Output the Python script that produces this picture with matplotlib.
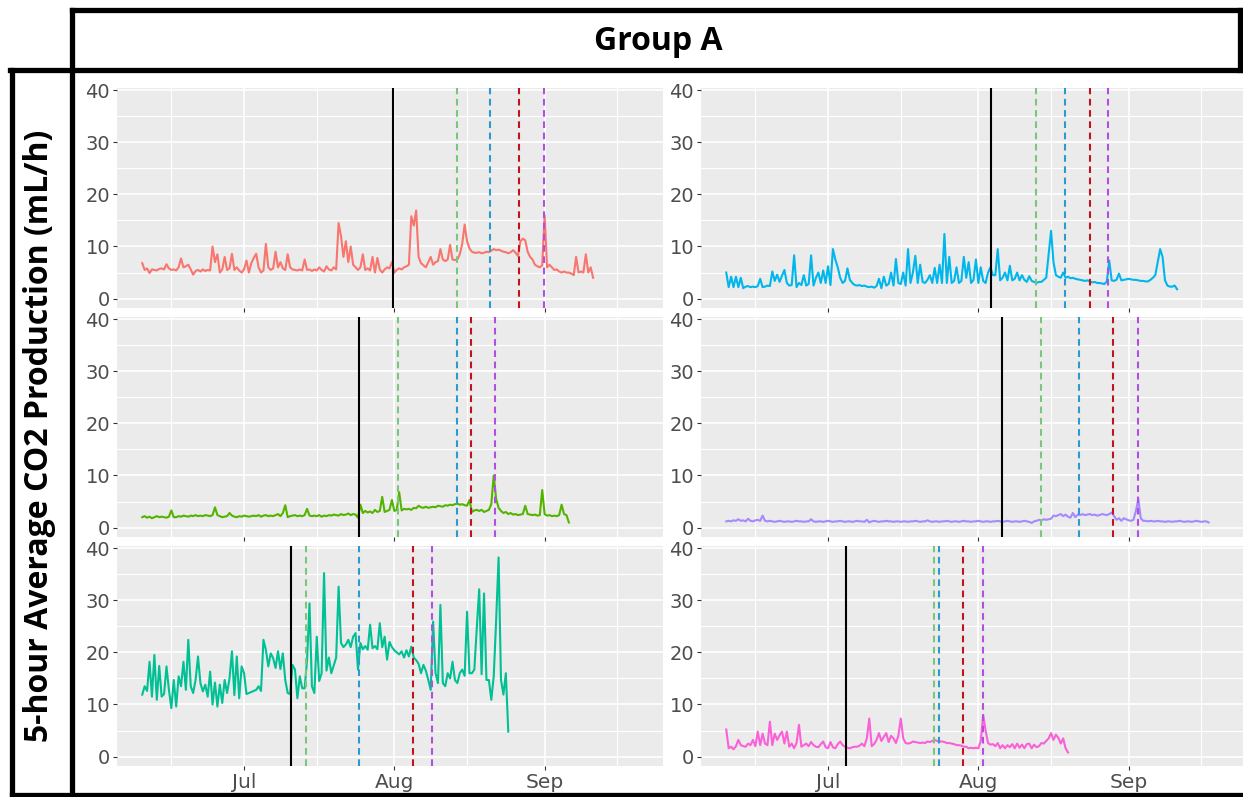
import matplotlib
matplotlib.use("Agg")
import matplotlib.pyplot as plt
import matplotlib.dates as mdates
from matplotlib.lines import Line2D
import pandas as pd

W, H = 1243, 797

# 5-hour average CO2 production (mL/h), one value every 12 h from 10 June
start = "2020-06-10"
step = "12h"

co2_tl = [6.8, 5.5, 5.8, 4.9, 5.6, 5.5, 5.4, 5.7, 5.8, 5.6,
          6.6, 5.8, 5.5, 5.6, 5.4, 6.0, 7.7, 6.0, 6.2, 6.5,
          5.6, 4.6, 5.3, 5.5, 5.2, 5.6, 5.3, 5.5, 5.4, 10.0,
          7.0, 8.5, 5.0, 5.6, 8.0, 5.5, 5.8, 8.6, 5.5, 6.0,
          5.4, 5.0, 5.6, 7.3, 5.0, 6.8, 7.8, 8.6, 6.0, 5.0,
          5.4, 10.5, 6.0, 5.5, 5.8, 9.0, 6.0, 7.0, 5.8, 5.5,
          8.5, 6.0, 5.6, 5.5, 5.4, 5.6, 5.4, 7.5, 5.5, 5.6,
          5.3, 5.6, 5.4, 6.0, 5.5, 5.2, 6.2, 5.6, 5.4, 6.0,
          5.6, 14.5, 12.0, 8.0, 11.0, 7.0, 10.0, 6.5, 6.0, 5.5,
          6.0, 8.5, 5.5, 5.8, 5.4, 8.0, 5.0, 7.8, 5.6, 5.0,
          5.6, 6.0, 5.8, 7.0, 5.0, 5.5, 5.8, 5.6, 6.0, 6.2,
          6.5, 15.8, 14.0, 16.9, 8.0, 6.8, 6.4, 6.0, 7.0, 8.0,
          6.5, 7.0, 7.2, 9.5, 7.5, 7.2, 7.5, 10.3, 7.5, 7.4,
          7.5, 8.5, 10.5, 14.2, 11.0, 9.6, 9.0, 8.8, 8.8, 8.9,
          8.7, 8.8, 9.0, 8.9, 9.2, 9.5, 9.3, 9.4, 9.2, 9.0,
          8.9, 8.7, 8.9, 9.3, 8.8, 8.2, 11.0, 11.5, 11.2, 9.0,
          8.0, 7.5, 6.5, 6.2, 6.0, 6.4, 16.0, 6.0, 6.5, 6.0,
          5.5, 5.6, 5.2, 5.0, 5.2, 5.0, 5.0, 4.8, 4.5, 8.0,
          5.0, 5.2, 5.0, 8.5, 5.0, 6.0, 4.0]

co2_tr = [5.0, 2.2, 4.2, 2.2, 4.2, 2.2, 4.0, 2.0, 2.3, 2.4,
          2.2, 2.3, 2.2, 2.4, 3.8, 2.2, 2.3, 2.5, 2.4, 5.2,
          3.4, 4.6, 3.2, 4.4, 5.5, 3.0, 2.5, 2.6, 8.3, 2.2,
          3.0, 2.6, 4.5, 2.5, 2.8, 8.3, 2.5, 4.0, 5.0, 3.0,
          5.4, 3.0, 6.2, 2.6, 9.5, 7.5, 6.0, 4.0, 3.0, 3.4,
          5.8, 3.6, 3.0, 2.6, 2.5, 2.6, 2.4, 2.5, 2.3, 2.2,
          2.3, 2.1, 2.4, 3.8, 2.0, 4.2, 2.5, 2.8, 5.0, 2.5,
          7.6, 3.0, 2.8, 5.0, 2.5, 9.5, 3.0, 5.0, 8.2, 3.0,
          6.5, 3.2, 3.0, 3.6, 4.5, 3.0, 5.9, 3.0, 6.5, 3.0,
          12.4, 3.0, 8.0, 3.0, 3.4, 6.0, 3.0, 3.4, 8.0, 4.0,
          7.0, 3.0, 3.6, 7.5, 3.0, 6.0, 3.4, 3.0, 5.0, 6.0,
          4.5, 4.5, 9.5, 3.5, 4.0, 5.0, 3.5, 6.3, 3.5, 3.8,
          5.0, 3.5, 4.5, 3.6, 3.2, 4.3, 3.4, 3.2, 3.0, 3.2,
          3.2, 3.6, 4.0, 8.5, 13.0, 7.0, 4.5, 4.2, 4.0, 5.0,
          4.0, 4.2, 3.9, 4.0, 3.8, 3.7, 3.6, 3.5, 3.4, 3.5,
          3.3, 3.1, 3.2, 3.0, 3.0, 2.9, 2.8, 3.3, 7.3, 3.5,
          3.4, 3.6, 4.8, 3.5, 3.6, 3.7, 3.8, 3.7, 3.6, 3.6,
          3.5, 3.4, 3.4, 3.3, 3.3, 3.6, 4.0, 4.5, 7.0, 9.5,
          8.0, 3.5, 2.5, 2.3, 2.3, 2.5, 1.8]

co2_ml = [2.0, 2.2, 1.9, 2.1, 1.8, 2.0, 2.2, 2.0, 2.1, 2.0,
          1.9, 2.1, 3.3, 2.0, 2.0, 2.2, 2.1, 2.3, 2.2, 2.1,
          2.3, 2.2, 2.4, 2.2, 2.3, 2.2, 2.4, 2.3, 2.2, 2.4,
          3.9, 2.4, 2.2, 2.0, 2.1, 2.2, 2.8, 2.3, 2.1, 2.0,
          2.2, 2.1, 2.3, 2.2, 2.1, 2.2, 2.3, 2.2, 2.4, 2.1,
          2.3, 2.4, 2.2, 2.3, 2.2, 2.4, 2.6, 2.2, 2.8, 4.3,
          2.0, 2.2, 2.3, 2.4, 2.2, 2.3, 2.2, 2.4, 3.6, 2.3,
          2.2, 2.3, 2.2, 2.4, 2.1, 2.3, 2.2, 2.4, 2.3, 2.5,
          2.4, 2.3, 2.6, 2.4, 2.5, 2.7, 2.4, 2.6, 2.5, 1.9,
          4.4, 2.8, 3.2, 2.9, 3.1, 2.8, 3.4, 3.0, 3.2, 5.9,
          3.0, 3.2, 3.4, 5.3, 3.2, 3.4, 6.8, 3.3, 3.6, 3.5,
          3.6, 3.4, 3.8, 3.7, 4.2, 3.9, 3.8, 4.0, 3.8, 3.9,
          4.0, 3.9, 4.2, 4.1, 4.0, 4.3, 4.2, 4.4, 4.3, 4.5,
          4.6, 4.4, 4.5, 4.3, 4.2, 5.3, 3.0, 3.3, 3.4, 3.2,
          3.4, 3.0, 3.2, 3.4, 4.5, 10.0, 5.5, 3.8, 3.2, 2.8,
          3.0, 2.6, 2.8, 2.5, 2.6, 2.4, 2.5, 2.6, 4.2, 2.6,
          2.5, 2.4, 2.5, 2.3, 2.4, 7.2, 2.6, 2.3, 2.4, 2.2,
          2.3, 2.2, 2.4, 4.4, 2.6, 2.4, 1.0]

co2_mr = [1.2, 1.3, 1.2, 1.4, 1.3, 1.6, 1.3, 1.4, 1.2, 1.7,
          1.3, 1.2, 1.4, 1.5, 1.3, 2.3, 1.3, 1.2, 1.3, 1.2,
          1.1, 1.2, 1.3, 1.2, 1.1, 1.2, 1.2, 1.1, 1.2, 1.3,
          1.2, 1.2, 1.1, 1.2, 1.2, 1.6, 1.2, 1.1, 1.2, 1.2,
          1.1, 1.2, 1.3, 1.2, 1.1, 1.2, 1.2, 1.3, 1.2, 1.1,
          1.2, 1.2, 1.1, 1.2, 1.3, 1.2, 1.2, 1.1, 1.5, 1.0,
          1.2, 1.3, 1.2, 1.1, 1.2, 1.2, 1.3, 1.2, 1.2, 1.1,
          1.2, 1.2, 1.1, 1.2, 1.2, 1.1, 1.2, 1.2, 1.3, 1.2,
          1.1, 1.2, 1.2, 1.4, 1.2, 1.1, 1.2, 1.2, 1.1, 1.2,
          1.2, 1.3, 1.2, 1.1, 1.2, 1.2, 1.1, 1.2, 1.3, 1.2,
          1.2, 1.1, 1.2, 1.2, 1.3, 1.2, 1.1, 1.2, 1.2, 1.1,
          1.2, 1.2, 1.3, 1.2, 1.1, 1.2, 1.3, 1.2, 1.1, 1.2,
          1.2, 1.1, 1.2, 1.3, 1.2, 1.1, 0.9, 1.2, 1.3, 1.5,
          1.4, 1.6, 1.5, 1.6, 1.7, 2.3, 2.2, 2.4, 2.6, 2.2,
          2.5, 2.1, 1.9, 2.8, 2.0, 2.5, 2.4, 2.6, 2.4, 2.5,
          2.6, 2.4, 2.5, 2.3, 2.4, 2.6, 2.5, 2.4, 2.6, 2.9,
          2.2, 1.5, 1.8, 1.3, 1.8, 1.6, 1.4, 1.3, 1.5, 3.2,
          5.5, 1.8, 1.3, 1.3, 1.2, 1.3, 1.2, 1.2, 1.3, 1.2,
          1.2, 1.1, 1.2, 1.2, 1.1, 1.2, 1.2, 1.3, 1.2, 1.1,
          1.2, 1.2, 1.1, 1.2, 1.3, 1.2, 1.1, 1.2, 1.2, 1.0]

co2_bl = [11.9, 13.5, 12.6, 18.2, 11.5, 19.5, 10.9, 17.4, 11.5, 12.0,
          17.3, 12.8, 9.3, 14.7, 9.6, 15.4, 13.5, 18.2, 12.8, 22.4,
          13.5, 12.2, 14.7, 19.2, 14.1, 12.5, 13.8, 11.5, 16.3, 10.0,
          14.2, 9.6, 13.8, 10.3, 14.7, 12.2, 15.0, 20.2, 11.8, 19.2,
          11.2, 17.3, 16.0, 12.0, 12.2, 12.4, 12.6, 12.8, 13.5, 12.6,
          22.4, 20.5, 17.3, 19.8, 18.9, 17.0, 20.2, 16.8, 19.8, 14.7,
          12.2, 12.0, 17.6, 16.7, 11.2, 15.4, 13.1, 13.1, 18.6, 29.4,
          13.5, 12.2, 23.0, 14.5, 16.0, 35.2, 16.5, 19.0, 16.0, 17.5,
          19.0, 32.6, 21.8, 21.0, 21.5, 22.4, 21.0, 23.0, 23.7, 16.7,
          21.8, 20.6, 21.2, 20.5, 25.3, 20.8, 21.2, 20.6, 25.6, 21.0,
          23.0, 18.6, 22.0, 21.0, 20.4, 20.0, 19.6, 20.2, 19.0, 20.4,
          19.2, 21.1, 19.0, 18.5, 17.8, 16.0, 17.6, 16.5, 14.7, 12.8,
          25.9, 16.0, 14.1, 29.1, 14.1, 13.5, 16.0, 15.0, 18.2, 14.7,
          14.1, 16.0, 16.7, 15.5, 27.8, 16.0, 16.0, 16.7, 24.6, 32.1,
          15.8, 31.3, 14.7, 14.7, 10.9, 15.4, 26.2, 38.2, 14.7, 11.9,
          16.0, 4.8]

co2_br = [5.2, 1.6, 1.9, 1.4, 2.0, 3.2, 2.2, 2.0, 1.9, 2.5,
          2.2, 3.2, 2.0, 4.8, 2.2, 4.4, 2.5, 2.2, 6.7, 2.2,
          4.4, 3.2, 4.1, 4.8, 2.5, 4.8, 1.9, 2.5, 1.6, 2.6,
          6.1, 1.9, 2.2, 2.5, 2.0, 2.8, 2.2, 1.9, 1.8, 2.4,
          2.9, 1.8, 1.6, 2.8, 1.8, 1.6, 2.4, 2.9, 2.2, 1.9,
          1.7, 1.6, 1.8, 1.9, 1.9, 2.1, 2.5, 2.0, 3.5, 7.3,
          2.0, 2.4, 3.2, 4.5, 3.0, 3.8, 4.5, 2.8, 4.0, 3.5,
          2.6, 4.0, 7.3, 3.5, 2.6, 2.5, 2.6, 2.9, 2.8, 2.7,
          2.6, 2.7, 2.6, 2.9, 2.8, 3.0, 3.2, 3.0, 2.9, 2.9,
          2.8, 2.6, 2.6, 2.5, 2.4, 2.2, 2.2, 2.1, 1.9, 1.9,
          1.6, 1.7, 1.6, 1.7, 1.6, 3.0, 8.0, 5.0, 2.6, 2.3,
          2.4, 2.0, 2.6, 1.6, 2.2, 1.6, 2.2, 1.8, 2.4, 1.6,
          2.5, 1.7, 2.3, 1.6, 2.4, 2.5, 1.6, 2.3, 1.8, 2.0,
          2.6, 2.5, 3.0, 3.5, 4.5, 3.2, 4.2, 3.6, 2.5, 3.5,
          1.6, 0.8]

# panel order: top-left, top-right, middle-left, middle-right, bottom-left, bottom-right
series = [co2_tl, co2_tr, co2_ml, co2_mr, co2_bl, co2_br]
series_colors = ["#F8766D", "#00B6EB", "#53B400", "#A58AFF", "#00C094", "#FB61D7"]

# event dates marked with vertical lines in each panel
ev_black = ["2020-07-31 17:00", "2020-08-03 17:00", "2020-07-24 17:00",
            "2020-08-05 19:00", "2020-07-10 17:00", "2020-07-04 17:00"]
ev_green = ["2020-08-13 22:00", "2020-08-12 22:00", "2020-08-01 19:00",
            "2020-08-13 22:00", "2020-07-13 19:00", "2020-07-22 22:00"]
ev_blue = ["2020-08-20 17:00", "2020-08-18 22:00", "2020-08-13 22:00",
           "2020-08-21 19:00", "2020-07-24 17:00", "2020-07-23 22:00"]
ev_red = ["2020-08-26 17:00", "2020-08-24 00:00", "2020-08-16 19:00",
          "2020-08-28 19:00", "2020-08-04 19:00", "2020-07-28 22:00"]
ev_purple = ["2020-08-31 22:00", "2020-08-27 19:00", "2020-08-21 19:00",
             "2020-09-03 00:00", "2020-08-08 19:00", "2020-08-01 22:00"]
dash_colors = ["#7CC67C", "#2A9BCC", "#C0141C", "#B24FE3"]

x_limits = (pd.Timestamp("2020-06-04 19:00"), pd.Timestamp("2020-09-25 10:00"))

fig = plt.figure(figsize=(W / 100, H / 100), dpi=100)
fig.patch.set_facecolor("white")


def px_axes(left, top, w, h):
    return fig.add_axes([left / W, 1 - (top + h) / H, w / W, h / H])


col_left = [117, 701]
row_top = [88, 317, 546]
panel_w, panel_h = 546, 220

for k, values in enumerate(series):
    row, col = k // 2, k % 2
    ax = px_axes(col_left[col], row_top[row], panel_w, panel_h)
    ax.set_facecolor("#EBEBEB")
    for s in ax.spines.values():
        s.set_visible(False)

    t = pd.date_range(start, periods=len(values), freq=step)
    ax.plot(t, values, color=series_colors[k], lw=1.5, zorder=2)

    ax.axvline(pd.Timestamp(ev_black[k]), color="black", lw=1.5, zorder=3)
    for dates, c in zip([ev_green, ev_blue, ev_red, ev_purple], dash_colors):
        ax.axvline(pd.Timestamp(dates[k]), color=c, lw=1.5,
                   ls=(0, (3.2, 2.2)), zorder=3)

    ax.set_xlim(*x_limits)
    ax.set_ylim(-1.8, 40.4)
    ax.set_yticks([0, 10, 20, 30, 40])
    ax.set_yticks([5, 15, 25, 35], minor=True)
    ax.xaxis.set_major_locator(mdates.MonthLocator())
    ax.xaxis.set_major_formatter(mdates.DateFormatter("%b"))
    ax.xaxis.set_minor_locator(mdates.MonthLocator(bymonthday=16))

    ax.set_axisbelow(True)
    ax.grid(which="major", color="white", lw=1.2)
    ax.grid(which="minor", color="white", lw=0.8)
    ax.tick_params(which="major", length=3, width=0.8, color="#333333",
                   labelcolor="#4D4D4D", pad=2)
    ax.tick_params(axis="y", labelsize=14)
    ax.tick_params(axis="x", labelsize=14.5)
    ax.tick_params(which="minor", length=0)
    for lab in ax.get_xticklabels() + ax.get_yticklabels():
        lab.set_family("DejaVu Sans")
    if row < 2:
        ax.tick_params(axis="x", labelbottom=False)


def frame_line(x0, y0, x1, y1):
    fig.add_artist(Line2D([x0 / W, x1 / W], [1 - y0 / H, 1 - y1 / H],
                          transform=fig.transFigure, color="black", lw=3.8,
                          solid_capstyle="projecting", zorder=10))


# header box
frame_line(72, 10, 1240, 10)
frame_line(1240, 10, 1240, 70)
frame_line(10, 70, 1240, 70)
frame_line(72, 10, 72, 797)
# side label box
frame_line(12, 70, 12, 795)
frame_line(12, 795, 1243, 795)

fig.text(658 / W, 1 - 42 / H, "Group A", ha="center", va="center",
         fontsize=23, fontweight="bold", family="Open Sans")
fig.text(40 / W, 1 - 436 / H, "5-hour Average CO2 Production (mL/h)",
         rotation=90, ha="center", va="center", fontsize=23,
         fontweight="bold", family="Open Sans")

fig.savefig("out.png", dpi=100, facecolor="white")
